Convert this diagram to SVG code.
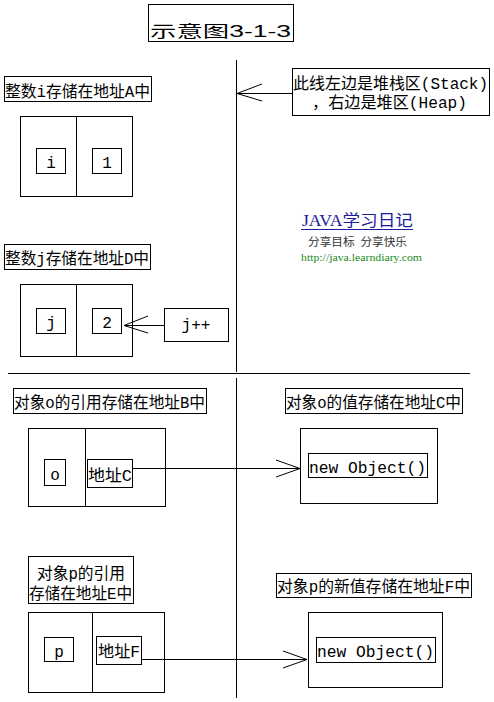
<svg xmlns="http://www.w3.org/2000/svg" width="494" height="702" viewBox="0 0 494 702">
<style>
.b{fill:none;stroke:#000;stroke-width:1}
.l{fill:none;stroke:#000;stroke-width:1}
.t{font-family:"Liberation Mono","Noto Sans CJK SC",monospace;font-size:16px;fill:#000}
.c{text-anchor:middle}
</style>
<rect width="494" height="702" fill="#fff"/>
<g id="title"><rect class="b" x="148.5" y="4.5" width="145" height="37"/><text class="t" x="150" y="37" font-size="24" textLength="141" lengthAdjust="spacingAndGlyphs" style="font-family:'Liberation Sans','Noto Sans CJK SC',sans-serif">示意图3-1-3</text></g>
<g id="connectors">
<line class="l" x1="236.5" y1="60" x2="236.5" y2="372"/>
<line class="l" x1="8" y1="373.5" x2="470" y2="373.5"/>
<line class="l" x1="236.5" y1="378" x2="236.5" y2="698"/>
<polyline class="l" points="292,93.5 237,93.5"/>
<polyline class="l" points="262,84 237,93.5 262,101"/>
<polyline class="l" points="164,325.5 124,325.5"/>
<polyline class="l" points="148,316 124,325.5 148,333"/>
<polyline class="l" points="133,468.5 300,468.5"/>
<polyline class="l" points="276,460 300,468.5 276,477"/>
<polyline class="l" points="141,659.5 307,659.5"/>
<polyline class="l" points="283,651 307,659.5 283,668"/>
</g>
<g id="note"><rect class="b" x="292.5" y="68.5" width="197" height="47"/><text class="t" x="293" y="89" textLength="195" lengthAdjust="spacingAndGlyphs">此线左边是堆栈区(Stack)</text><text class="t" x="312" y="108" textLength="155" lengthAdjust="spacingAndGlyphs">，右边是堆区(Heap)</text></g>
<g id="labelA"><rect class="b" x="4.5" y="76.5" width="147" height="25"/><text class="t" x="5" y="97" textLength="145" lengthAdjust="spacingAndGlyphs">整数i存储在地址A中</text></g>
<g id="boxA"><rect class="b" x="20.5" y="116.5" width="112" height="80"/><line class="l" x1="76.5" y1="116" x2="76.5" y2="197"/>
<rect class="b" x="36.5" y="148.5" width="29" height="25"/><text class="t c" x="51" y="168">i</text>
<rect class="b" x="92.5" y="148.5" width="29" height="25"/><text class="t c" x="107" y="168">1</text></g>
<g id="watermark" style="font-family:'Liberation Serif','Noto Sans CJK SC',serif">
<text x="302" y="226" font-size="16" fill="#1c1c9c" textLength="111" lengthAdjust="spacingAndGlyphs">JAVA学习日记</text>
<line x1="301" y1="229.5" x2="413" y2="229.5" stroke="#1c1c9c" stroke-width="1"/>
<text x="308" y="246" font-size="11" fill="#333" textLength="99" lengthAdjust="spacingAndGlyphs" xml:space="preserve">分享目标  分享快乐</text>
<text x="301" y="261" font-size="11" fill="#1a8a1a" textLength="121" lengthAdjust="spacingAndGlyphs">http://java.learndiary.com</text></g>
<g id="labelD"><rect class="b" x="4.5" y="244.5" width="146" height="25"/><text class="t" x="5" y="264" textLength="144" lengthAdjust="spacingAndGlyphs">整数j存储在地址D中</text></g>
<g id="boxD"><rect class="b" x="20.5" y="284.5" width="112" height="72"/><line class="l" x1="76.5" y1="284" x2="76.5" y2="357"/>
<rect class="b" x="36.5" y="308.5" width="29" height="25"/><text class="t c" x="51" y="328">j</text>
<rect class="b" x="92.5" y="308.5" width="29" height="25"/><text class="t c" x="107" y="328">2</text></g>
<g id="jpp"><rect class="b" x="164.5" y="308.5" width="64" height="33"/><text class="t c" x="196" y="330">j++</text></g>
<g id="labelB"><rect class="b" x="13.5" y="388.5" width="193" height="25"/><text class="t" x="14" y="408" textLength="191" lengthAdjust="spacingAndGlyphs">对象o的引用存储在地址B中</text></g>
<g id="boxB"><rect class="b" x="28.5" y="428.5" width="137" height="78"/><line class="l" x1="85.5" y1="428" x2="85.5" y2="507"/>
<rect class="b" x="44.5" y="459.5" width="21" height="26"/><text class="t c" x="55" y="480">o</text>
<rect class="b" x="87.5" y="459.5" width="45" height="28"/><text class="t" x="88" y="481" textLength="44" lengthAdjust="spacingAndGlyphs">地址C</text></g>
<g id="labelC"><rect class="b" x="285.5" y="388.5" width="177" height="25"/><text class="t" x="286" y="408" textLength="175" lengthAdjust="spacingAndGlyphs">对象o的值存储在地址C中</text></g>
<g id="objC"><rect class="b" x="300.5" y="428.5" width="137" height="75"/><rect class="b" x="308.5" y="453.5" width="119" height="24"/><text class="t" x="309" y="473" textLength="117" lengthAdjust="spacingAndGlyphs">new Object()</text></g>
<g id="labelE"><rect class="b" x="28.5" y="556.5" width="105" height="47"/><text class="t" x="37" y="579" textLength="88" lengthAdjust="spacingAndGlyphs">对象p的引用</text><text class="t" x="29" y="599" textLength="103" lengthAdjust="spacingAndGlyphs">存储在地址E中</text></g>
<g id="boxE"><rect class="b" x="28.5" y="612.5" width="136" height="80"/><line class="l" x1="92.5" y1="612" x2="92.5" y2="693"/>
<rect class="b" x="44.5" y="637.5" width="29" height="24"/><text class="t c" x="59" y="657">p</text>
<rect class="b" x="96.5" y="636.5" width="45" height="28"/><text class="t" x="98" y="657" textLength="42" lengthAdjust="spacingAndGlyphs">地址F</text></g>
<g id="labelF"><rect class="b" x="276.5" y="573.5" width="195" height="24"/><text class="t" x="277" y="592" textLength="193" lengthAdjust="spacingAndGlyphs">对象p的新值存储在地址F中</text></g>
<g id="objF"><rect class="b" x="308.5" y="612.5" width="134" height="75"/><rect class="b" x="316.5" y="637.5" width="119" height="25"/><text class="t" x="317" y="657" textLength="117" lengthAdjust="spacingAndGlyphs">new Object()</text></g>
</svg>
